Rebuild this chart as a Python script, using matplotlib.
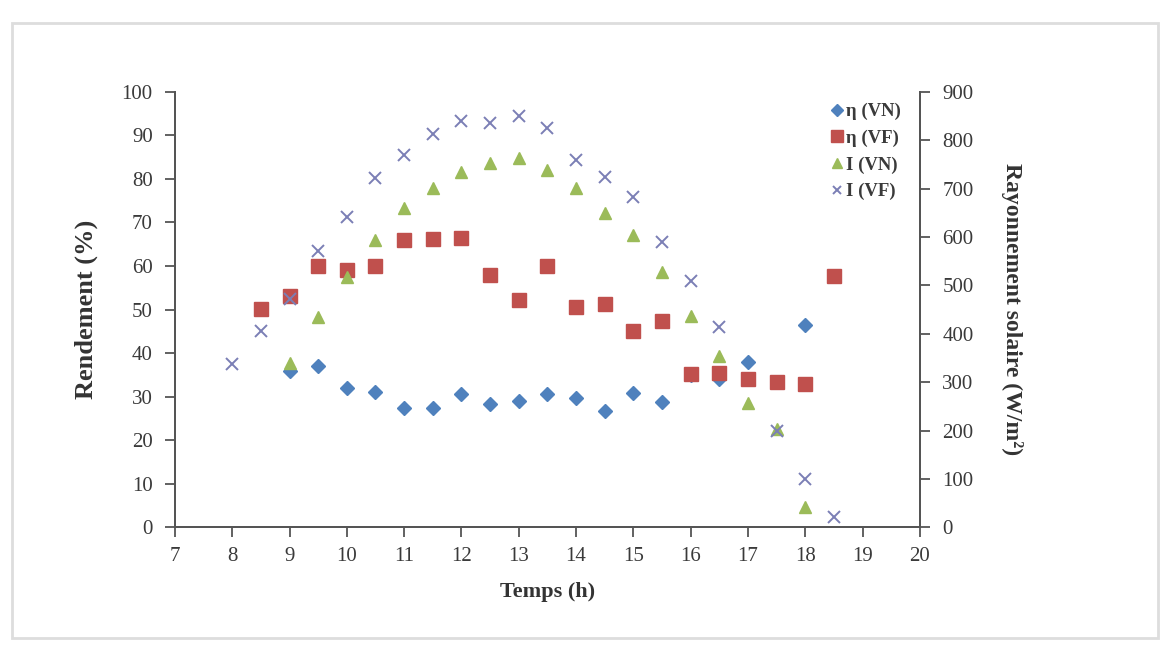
import matplotlib
matplotlib.use("Agg")
import matplotlib.pyplot as plt
from matplotlib.patches import Rectangle

# Data
t_eta_vn = [9, 9.5, 10, 10.5, 11, 11.5, 12, 12.5, 13, 13.5, 14, 14.5, 15, 15.5, 16, 16.5, 17, 18]
eta_vn = [36, 37, 32, 31, 27.3, 27.3, 30.7, 28.2, 29, 30.7, 29.8, 26.6, 30.8, 28.8, 35, 34, 38, 46.5]

t_eta_vf = [8.5, 9, 9.5, 10, 10.5, 11, 11.5, 12, 12.5, 13, 13.5, 14, 14.5, 15, 15.5, 16, 16.5, 17, 17.5, 18, 18.5]
eta_vf = [50.2, 53, 60, 59, 60, 66, 66.3, 66.5, 58, 52.3, 60, 50.5, 51.3, 45, 47.3, 35.3, 35.5, 34, 33.4, 33, 57.8]

t_i_vn = [9, 9.5, 10, 10.5, 11, 11.5, 12, 12.5, 13, 13.5, 14, 14.5, 15, 15.5, 16, 16.5, 17, 17.5, 18]
i_vn = [340, 434, 518, 594, 660, 702, 734, 753, 763, 738, 702, 650, 605, 528, 437, 355, 257, 204, 43]

t_i_vf = [8, 8.5, 9, 9.5, 10, 10.5, 11, 11.5, 12, 12.5, 13, 13.5, 14, 14.5, 15, 15.5, 16, 16.5, 17.5, 18, 18.5]
i_vf = [337, 405, 472, 570, 641, 722, 770, 812, 839, 835, 849, 826, 760, 724, 683, 589, 508, 414, 200, 100, 22]

labels = ["\u03b7 (VN)", "\u03b7 (VF)", "I (VN)", "I (VF)"]
x_ticks = list(range(7, 21))
y_left_ticks = list(range(0, 101, 10))
y_right_ticks = list(range(0, 901, 100))

plt.rcParams['font.family'] = ['Liberation Serif', 'DejaVu Serif']

fig = plt.figure(figsize=(11.66, 6.51), dpi=100)
ax = fig.add_axes([0.150, 0.190, 0.639, 0.669])
ax2 = ax.twinx()

c_vn = '#4F81BD'
c_vf = '#C0504D'
c_ivn = '#9BBB59'
c_ivf = '#7B7FB5'

h1, = ax.plot(t_eta_vn, eta_vn, linestyle='none', marker='D', markersize=7.5, color=c_vn, zorder=3)
h2, = ax.plot(t_eta_vf, eta_vf, linestyle='none', marker='s', markersize=10, color=c_vf, zorder=4)
h3, = ax2.plot(t_i_vn, i_vn, linestyle='none', marker='^', markersize=9, color=c_ivn, zorder=3)
h4, = ax2.plot(t_i_vf, i_vf, linestyle='none', marker='x', markersize=8, markeredgewidth=1.4, color=c_ivf, zorder=3)

ax.set_xlim(7, 20)
ax.set_ylim(0, 100)
ax2.set_ylim(0, 900)
ax.set_xticks(x_ticks)
ax.set_yticks(y_left_ticks)
ax2.set_yticks(y_right_ticks)

for a in (ax, ax2):
    a.spines['top'].set_visible(False)
    for s in a.spines.values():
        s.set_color('#555555')
        s.set_linewidth(1.4)
    a.tick_params(direction='out', length=7, width=1.3, color='#555555', labelsize=15, labelcolor='#3a3a3a')
ax.tick_params(axis='x', pad=7)
ax.tick_params(axis='y', pad=9)
ax2.tick_params(axis='y', pad=9)

ax.set_xlabel("Temps (h)", fontsize=16, fontweight='bold', labelpad=12, color='#333333')
ax.set_ylabel("Rendement (%)", fontsize=19, fontweight='bold', labelpad=17, color='#333333')
ax2.set_ylabel("Rayonnement solaire (W/m\u00b2)", fontsize=17, fontweight='bold', rotation=270,
               labelpad=36, color='#333333')

leg = ax2.legend([h1, h2, h3, h4], labels, loc='upper right', bbox_to_anchor=(0.99, 1.0),
                 frameon=False, prop={'size': 13.5, 'weight': 'bold'}, labelspacing=0.5,
                 handlelength=0.7, handletextpad=0.15, borderaxespad=0.2, markerscale=0.8)
for txt in leg.get_texts():
    txt.set_color('#3a3a3a')

# light frame around the chart
fig.patches.append(Rectangle((0.010, 0.020), 0.983, 0.945, transform=fig.transFigure,
                             fill=False, edgecolor='#DDDDDD', linewidth=2))

fig.savefig("out.png", dpi=100)
